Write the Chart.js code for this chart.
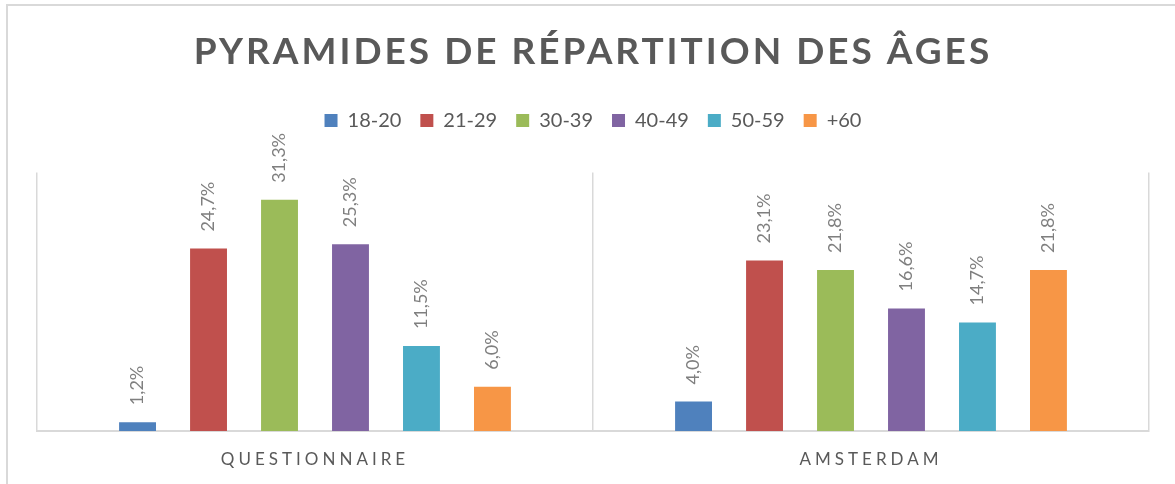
<!DOCTYPE html>
<html>
<head>
<meta charset="utf-8">
<script src="https://cdn.jsdelivr.net/npm/chart.js@4.4.1/dist/chart.umd.min.js"></script>
<style>
  html, body { margin: 0; padding: 0; background: #ffffff; }
  #wrap { position: relative; width: 1175px; height: 484px; overflow: hidden; }
  #frame { position: absolute; left: 6px; top: 4px; width: 1300px; height: 600px;
           border-left: 2px solid #d9d9d9; border-top: 2px solid #d9d9d9; pointer-events: none; }
</style>
</head>
<body>
<div id="wrap">
  <canvas id="c" width="1175" height="484"></canvas>
  <div id="frame"></div>
</div>
<script>
// ---- data ----
const chartTitle = 'PYRAMIDES DE RÉPARTITION DES ÂGES';
const categories = ['QUESTIONNAIRE', 'AMSTERDAM'];
const seriesNames = ['18-20', '21-29', '30-39', '40-49', '50-59', '+60'];
const age18_20 = [1.2, 4.0];
const age21_29 = [24.7, 23.1];
const age30_39 = [31.3, 21.8];
const age40_49 = [25.3, 16.6];
const age50_59 = [11.5, 14.7];
const age60plus = [6.0, 21.8];
const seriesValues = [age18_20, age21_29, age30_39, age40_49, age50_59, age60plus];
const seriesColors = ['#4F81BD', '#C0504D', '#9BBB59', '#8064A2', '#4BACC6', '#F79646'];
const yMin = 0;
const yMax = 35;

const FONT = 'Lato, "Open Sans", sans-serif';
const TITLE_SPACING = 3;
const AXIS_SPACING = 4;

// category axis whose labels are letter-spaced
class SpacedCategoryScale extends Chart.CategoryScale {
  drawLabels(chartArea) {
    const ctx = this.ctx;
    ctx.save();
    ctx.letterSpacing = AXIS_SPACING + 'px';
    super.drawLabels(chartArea);
    ctx.restore();
  }
}
SpacedCategoryScale.id = 'spacedCategory';
SpacedCategoryScale.defaults = Chart.CategoryScale.defaults;
Chart.register(SpacedCategoryScale);

// letter-spaced title
const titleSpacing = {
  id: 'titleSpacing',
  beforeDraw(chart) {
    const tb = chart.titleBlock;
    if (tb && !tb._spaced) {
      const orig = tb.draw;
      tb.draw = function (...args) {
        const c = this.ctx;
        c.save();
        c.letterSpacing = TITLE_SPACING + 'px';
        orig.apply(this, args);
        c.restore();
      };
      tb._spaced = true;
    }
  }
};

// rotated value labels
const valueLabels = {
  id: 'valueLabels',
  afterDatasetsDraw(chart) {
    const ctx = chart.ctx;
    ctx.save();
    ctx.font = '18px ' + FONT;
    ctx.fillStyle = '#7f7f7f';
    ctx.textAlign = 'left';
    ctx.textBaseline = 'middle';
    chart.data.datasets.forEach((ds, di) => {
      const meta = chart.getDatasetMeta(di);
      meta.data.forEach((bar, i) => {
        const v = ds.data[i];
        const txt = v.toFixed(1).replace('.', ',') + '%';
        ctx.save();
        ctx.translate(bar.x, bar.y - 17);
        ctx.rotate(-Math.PI / 2);
        ctx.fillText(txt, 0, 0);
        ctx.restore();
      });
    });
    ctx.restore();
  }
};

const datasets = seriesNames.map((name, i) => ({
  label: name,
  data: seriesValues[i],
  backgroundColor: seriesColors[i],
  borderWidth: 0,
  barPercentage: 0.52,
  categoryPercentage: 0.766
}));

new Chart(document.getElementById('c'), {
  type: 'bar',
  data: { labels: categories, datasets },
  plugins: [titleSpacing, valueLabels],
  options: {
    responsive: false,
    animation: false,
    devicePixelRatio: 1,
    layout: { padding: { top: 0, left: 37, right: 26, bottom: 0 } },
    plugins: {
      tooltip: { enabled: false },
      title: {
        display: true,
        text: chartTitle,
        color: '#595959',
        font: { family: FONT, size: 37, weight: 'bold' },
        padding: { top: 29.5, bottom: 17.6 }
      },
      legend: {
        display: true,
        position: 'top',
        labels: {
          color: '#595959',
          font: { family: FONT, size: 20 },
          boxWidth: 13,
          boxHeight: 13,
          padding: 19
        }
      }
    },
    scales: {
      x: {
        type: 'spacedCategory',
        position: 'bottom',
        grid: { display: true, offset: true, color: '#d9d9d9', lineWidth: 1.5, drawTicks: false },
        border: { display: true, color: '#d9d9d9', width: 2 },
        ticks: { color: '#595959', font: { family: FONT, size: 17 }, padding: 18.5, maxRotation: 0 },
        afterFit(axis) { axis.height = 53; }
      },
      xTop: {
        type: 'category',
        position: 'top',
        display: true,
        grid: { display: false, drawTicks: false },
        border: { display: false },
        ticks: { display: false },
        afterFit(axis) { axis.height = 32; }
      },
      y: {
        display: false,
        min: yMin,
        max: yMax
      }
    }
  }
});
</script>
</body>
</html>
